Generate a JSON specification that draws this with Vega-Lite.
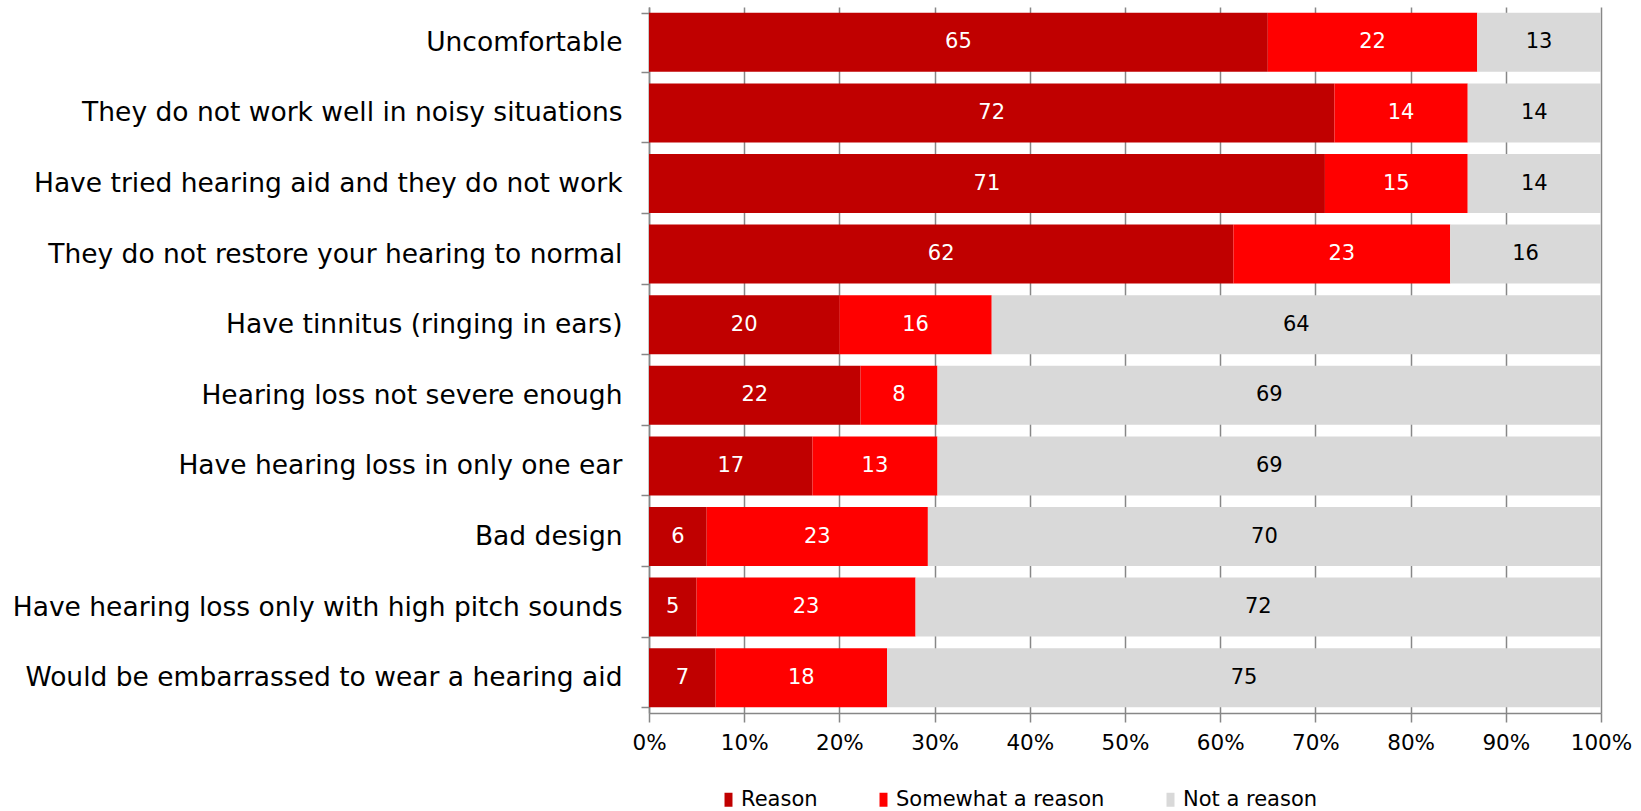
{
  "$schema": "https://vega.github.io/schema/vega-lite/v6.json",
  "width": 952,
  "height": 706,
  "autosize": {"type": "none"},
  "padding": {"left": 649, "top": 7, "right": 40, "bottom": 98},
  "background": "white",
  "config": {"font": "DejaVu Sans", "view": {"stroke": null}},
  "data": {
    "values": [
      {"reason": "Uncomfortable", "response": "Reason", "k": 1, "pct": 65},
      {"reason": "Uncomfortable", "response": "Somewhat a reason", "k": 2, "pct": 22},
      {"reason": "Uncomfortable", "response": "Not a reason", "k": 3, "pct": 13},
      {"reason": "They do not work well in noisy situations", "response": "Reason", "k": 1, "pct": 72},
      {"reason": "They do not work well in noisy situations", "response": "Somewhat a reason", "k": 2, "pct": 14},
      {"reason": "They do not work well in noisy situations", "response": "Not a reason", "k": 3, "pct": 14},
      {"reason": "Have tried hearing aid and they do not work", "response": "Reason", "k": 1, "pct": 71},
      {"reason": "Have tried hearing aid and they do not work", "response": "Somewhat a reason", "k": 2, "pct": 15},
      {"reason": "Have tried hearing aid and they do not work", "response": "Not a reason", "k": 3, "pct": 14},
      {"reason": "They do not restore your hearing to normal", "response": "Reason", "k": 1, "pct": 62},
      {"reason": "They do not restore your hearing to normal", "response": "Somewhat a reason", "k": 2, "pct": 23},
      {"reason": "They do not restore your hearing to normal", "response": "Not a reason", "k": 3, "pct": 16},
      {"reason": "Have tinnitus (ringing in ears)", "response": "Reason", "k": 1, "pct": 20},
      {"reason": "Have tinnitus (ringing in ears)", "response": "Somewhat a reason", "k": 2, "pct": 16},
      {"reason": "Have tinnitus (ringing in ears)", "response": "Not a reason", "k": 3, "pct": 64},
      {"reason": "Hearing loss not severe enough", "response": "Reason", "k": 1, "pct": 22},
      {"reason": "Hearing loss not severe enough", "response": "Somewhat a reason", "k": 2, "pct": 8},
      {"reason": "Hearing loss not severe enough", "response": "Not a reason", "k": 3, "pct": 69},
      {"reason": "Have hearing loss in only one ear", "response": "Reason", "k": 1, "pct": 17},
      {"reason": "Have hearing loss in only one ear", "response": "Somewhat a reason", "k": 2, "pct": 13},
      {"reason": "Have hearing loss in only one ear", "response": "Not a reason", "k": 3, "pct": 69},
      {"reason": "Bad design", "response": "Reason", "k": 1, "pct": 6},
      {"reason": "Bad design", "response": "Somewhat a reason", "k": 2, "pct": 23},
      {"reason": "Bad design", "response": "Not a reason", "k": 3, "pct": 70},
      {"reason": "Have hearing loss only with high pitch sounds", "response": "Reason", "k": 1, "pct": 5},
      {"reason": "Have hearing loss only with high pitch sounds", "response": "Somewhat a reason", "k": 2, "pct": 23},
      {"reason": "Have hearing loss only with high pitch sounds", "response": "Not a reason", "k": 3, "pct": 72},
      {"reason": "Would be embarrassed to wear a hearing aid", "response": "Reason", "k": 1, "pct": 7},
      {"reason": "Would be embarrassed to wear a hearing aid", "response": "Somewhat a reason", "k": 2, "pct": 18},
      {"reason": "Would be embarrassed to wear a hearing aid", "response": "Not a reason", "k": 3, "pct": 75}
    ]
  },
  "encoding": {
    "y": {
      "field": "reason",
      "type": "nominal",
      "sort": null,
      "scale": {"paddingInner": 0.165, "paddingOuter": 0.0825},
      "axis": {
        "title": null,
        "tickBand": "extent",
        "labelFontSize": 26.5,
        "labelColor": "black",
        "labelPadding": 19,
        "labelLimit": 800,
        "tickSize": 8,
        "tickColor": "#878787",
        "tickWidth": 1.5,
        "domainColor": "#878787",
        "domainWidth": 1.5,
        "grid": false
      }
    },
    "x": {
      "field": "pct",
      "type": "quantitative",
      "stack": "normalize",
      "scale": {"domain": [0, 1]},
      "axis": {
        "title": null,
        "format": ".0%",
        "values": [0, 0.1, 0.2, 0.3, 0.4, 0.5, 0.6, 0.7, 0.8, 0.9, 1],
        "labelFontSize": 21.5,
        "labelColor": "black",
        "labelPadding": 10,
        "labelFlush": false,
        "tickSize": 9,
        "tickColor": "#878787",
        "tickWidth": 1.5,
        "domainColor": "#878787",
        "domainWidth": 1.5,
        "grid": true,
        "gridColor": "#878787",
        "gridWidth": 1.5
      }
    },
    "order": {"field": "k", "type": "quantitative"}
  },
  "layer": [
    {
      "mark": {"type": "bar"},
      "encoding": {
        "color": {
          "field": "response",
          "type": "nominal",
          "sort": ["Reason", "Somewhat a reason", "Not a reason"],
          "scale": {
            "domain": ["Reason", "Somewhat a reason", "Not a reason"],
            "range": ["#C00000", "#FF0000", "#D9D9D9"]
          },
          "legend": {
            "title": null,
            "orient": "none",
            "legendX": 69,
            "legendY": 782,
            "direction": "horizontal",
            "symbolType": "M-0.57,-1H0.57V1H-0.57Z",
            "symbolSize": 196,
            "symbolStrokeWidth": 0,
            "labelFontSize": 21,
            "labelColor": "black",
            "labelOffset": 2,
            "columnPadding": 55,
            "labelLimit": 400
          }
        }
      }
    },
    {
      "mark": {"type": "text", "fontSize": 21},
      "encoding": {
        "x": {"field": "pct", "type": "quantitative", "stack": "normalize", "bandPosition": 0.5},
        "detail": {"field": "response"},
        "text": {"field": "pct", "type": "quantitative"},
        "color": {
          "condition": {"test": "datum.response === 'Not a reason'", "value": "black"},
          "value": "white"
        }
      }
    }
  ]
}
